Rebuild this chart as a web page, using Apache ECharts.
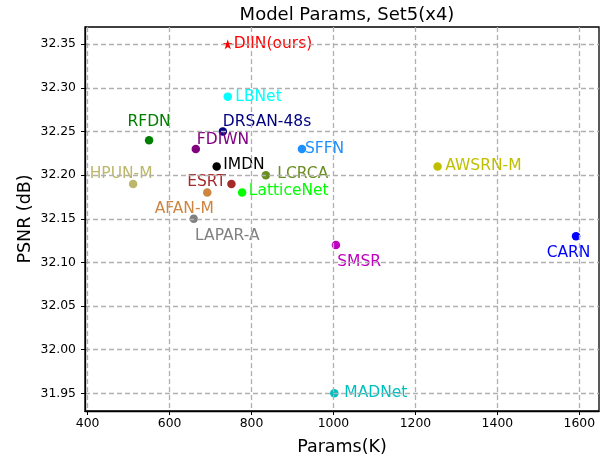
<!DOCTYPE html>
<html>
<head>
<meta charset="utf-8">
<script src="https://cdn.jsdelivr.net/npm/echarts@6/dist/echarts.min.js"></script>
<style>html,body{margin:0;padding:0;background:#fff}#c{width:605px;height:456px}</style>
</head>
<body>
<div id="c"></div>
<script>
// ---- data ----
const models = ['DIIN(ours)','LBNet','DRSAN-48s','RFDN','FDIWN','SFFN','IMDN','LCRCA','HPUN-M','ESRT','AFAN-M','LatticeNet','LAPAR-A','SMSR','AWSRN-M','CARN','MADNet'];
const params = [742, 742, 730, 550, 664, 923, 715, 835, 511, 751, 692, 777, 659, 1006, 1254, 1592, 1002];
const psnr   = [32.35, 32.29, 32.25, 32.24, 32.23, 32.23, 32.21, 32.20, 32.19, 32.19, 32.18, 32.18, 32.15, 32.12, 32.21, 32.13, 31.95];
const xTicks = [400, 600, 800, 1000, 1200, 1400, 1600];
const yTicks = [31.95, 32.00, 32.05, 32.10, 32.15, 32.20, 32.25, 32.30, 32.35];

// ---- styles ----
const colors = {
  'DIIN(ours)':'#ff0000','LBNet':'#00ffff','DRSAN-48s':'#000080','RFDN':'#008000','FDIWN':'#800080',
  'SFFN':'#1e90ff','IMDN':'#000000','LCRCA':'#6b8e23','HPUN-M':'#bdb76b','ESRT':'#a52a2a',
  'AFAN-M':'#cd853f','LatticeNet':'#00ff00','LAPAR-A':'#808080','SMSR':'#bf00bf','AWSRN-M':'#bfbf00',
  'CARN':'#0000ff','MADNet':'#00bfbf'
};
// [align, dx, dy] relative to marker centre
const labelPlace = {
  'DIIN(ours)':['left',6,0],'LBNet':['left',7.5,0],'DRSAN-48s':['left',0,-9.5],'RFDN':['center',0,-18],
  'FDIWN':['left',1,-9],'SFFN':['left',3,0],'IMDN':['left',6.5,-1],'LCRCA':['left',11.5,-1.5],
  'HPUN-M':['center',-12,-10],'ESRT':['right',-5.5,-1.5],'AFAN-M':['center',-23,16],
  'LatticeNet':['left',6.7,-1.3],'LAPAR-A':['left',1.3,17],'SMSR':['left',1.3,16.7],
  'AWSRN-M':['left',7.7,0],'CARN':['center',-7.5,16.6],'MADNet':['left',10,0]
};
const starPath = 'path://M50 0 L61.23 34.55 L97.55 34.55 L68.17 55.9 L79.39 90.45 L50 69.1 L20.61 90.45 L31.83 55.9 L2.45 34.55 L38.77 34.55 Z';
const FONT = 'DejaVu Sans';

const seriesData = models.map((m, i) => {
  const p = labelPlace[m];
  const isStar = m === 'DIIN(ours)';
  const s = isStar ? 10 : 8.5;
  return {
    name: m,
    value: [params[i], psnr[i]],
    symbol: isStar ? starPath : 'circle',
    symbolSize: s,
    itemStyle: { color: colors[m], opacity: 1 },
    label: {
      show: true, formatter: m, position: [s / 2 + p[1], s / 2 + p[2]],
      align: p[0], verticalAlign: 'middle',
      color: colors[m], opacity: 1, fontFamily: FONT, fontSize: 15.5
    }
  };
});

const chart = echarts.init(document.getElementById('c'), null, { renderer: 'canvas' });
chart.setOption({
  animation: false,
  backgroundColor: '#fff',
  title: {
    text: 'Model Params, Set5(x4)', left: 342, top: 1, textAlign: 'center',
    textStyle: { fontFamily: FONT, fontSize: 18, fontWeight: 'normal', color: '#000' }
  },
  grid: { left: 85, right: 6, top: 27, bottom: 45, outerBoundsMode: 'none', containLabel: false, show: true, borderColor: '#000', borderWidth: 1.3, backgroundColor: 'transparent' },
  xAxis: {
    type: 'value', min: 393.6, max: 1648, z: 5,
    name: 'Params(K)', nameLocation: 'middle', nameGap: 27, nameMoveOverlap: false,
    nameTextStyle: { fontFamily: FONT, fontSize: 17.5, color: '#000' },
    axisLine: { show: true, lineStyle: { color: '#000', width: 1.3 } },
    axisTick: { show: true, length: 4, inside: false, customValues: xTicks, lineStyle: { color: '#000' } },
    axisLabel: { customValues: xTicks, margin: 7, fontFamily: FONT, fontSize: 12.4, color: '#000', formatter: v => String(Math.round(v)) },
    splitLine: { show: true, lineStyle: { color: '#b0b0b0', type: [5, 3], width: 1.3 } }
  },
  yAxis: {
    type: 'value', min: 31.9297, max: 32.3698, z: 5,
    name: 'PSNR (dB)', nameLocation: 'middle', nameGap: 51, nameRotate: 90, nameMoveOverlap: false,
    nameTextStyle: { fontFamily: FONT, fontSize: 17.5, color: '#000' },
    axisLine: { show: true, lineStyle: { color: '#000', width: 1.3 } },
    axisTick: { show: true, length: 4, inside: false, customValues: yTicks, lineStyle: { color: '#000' } },
    axisLabel: { customValues: yTicks, margin: 9, fontFamily: FONT, fontSize: 12.4, color: '#000', formatter: v => v.toFixed(2) },
    splitLine: { show: true, lineStyle: { color: '#b0b0b0', type: [5, 3], width: 1.3 } }
  },
  series: [{ type: 'scatter', z: 2, data: seriesData, labelLayout: { hideOverlap: false } }]
});
</script>
</body>
</html>
